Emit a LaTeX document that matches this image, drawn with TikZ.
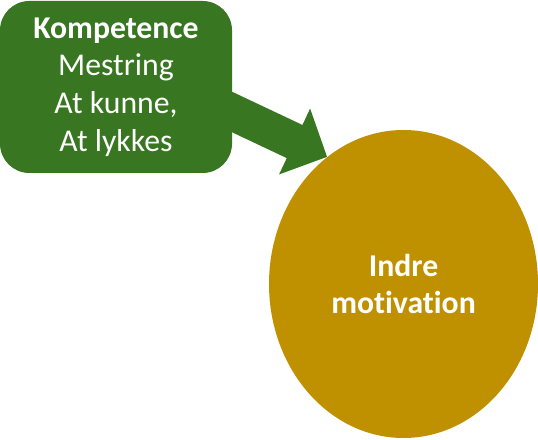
\documentclass[tikz,border=0pt]{standalone}
\usepackage{fontspec}
\setmainfont{Carlito}[Ligatures={NoCommon,NoDiscretionary}]
\usetikzlibrary{shapes.geometric,arrows.meta,positioning}

\definecolor{kompgreen}{RGB}{56,118,34}
\definecolor{motgold}{RGB}{191,144,0}

\begin{document}
\begin{tikzpicture}[x=0.75pt,y=0.75pt,
    bigtext/.style={text=white, align=center, font=\fontsize{23.8}{28.3}\selectfont}]
  \useasboundingbox (0,0) rectangle (538,439);

  % Kompetence box
  \node[bigtext, fill=kompgreen, rounded corners=22pt,
        minimum width=174pt, minimum height=129pt] (komp) at (116,352)
        {\textbf{Kompetence}\\Mestring\\At kunne,\\At lykkes};

  % Indre motivation
  \node[bigtext, ellipse, fill=motgold, inner sep=0pt,
        minimum width=201.75pt, minimum height=231pt,
        font=\fontsize{23.8}{28}\selectfont\bfseries] (motiv) at (403.5,155)
        {Indre\\motivation};

  % block arrow
  \coordinate (arrstart) at ([shift={(-32,-10)}]komp.east);
  \draw[kompgreen, line width=27.5pt, -{Triangle[width=53pt,length=27pt]}]
    (arrstart) -- (motiv.121);
\end{tikzpicture}
\end{document}
